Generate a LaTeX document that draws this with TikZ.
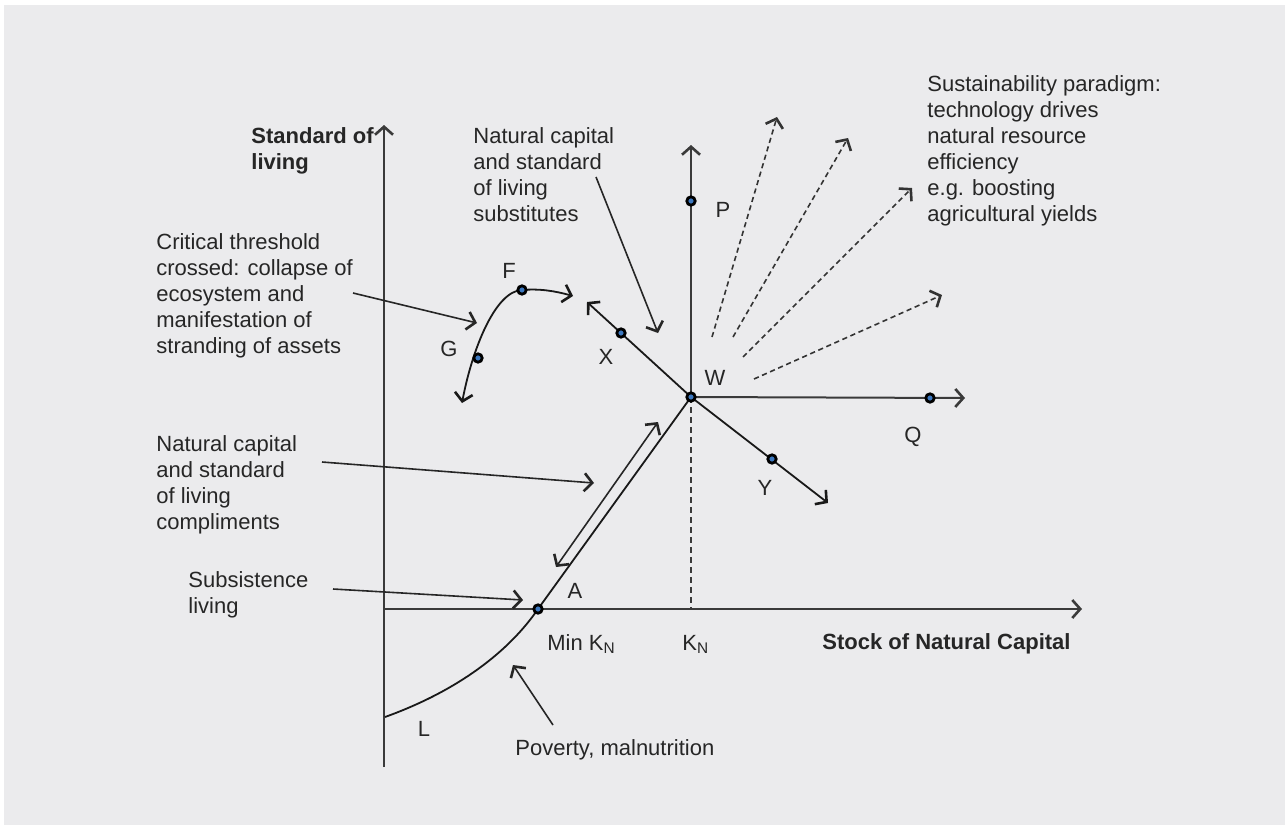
\documentclass[tikz,border=0pt]{standalone}
\usepackage{fontspec}
\setmainfont{Liberation Sans}
\usetikzlibrary{arrows.meta}
\definecolor{bggray}{HTML}{EBEBED}
\definecolor{axisgray}{HTML}{3A3A3A}
\definecolor{dotblue}{HTML}{3C78C0}

\begin{document}
\begin{tikzpicture}[x=0.5pt, y=-0.5pt,
    >={Straight Barb[length=4pt,width=9pt,line width=1.3pt]},
    every node/.style={font=\fontsize{11}{13}\selectfont, text=black!85, inner sep=0pt},
    note/.style={align=left, anchor=base west},
    axislabel/.style={note, font=\fontsize{11}{13}\selectfont\bfseries},
    axis/.style={draw=axisgray, line width=1pt},
    curve/.style={draw=black!90, line width=0.9pt},
    dot/.style={circle, draw=black, fill=dotblue, line width=1.4pt, minimum size=4.2pt},
    ray/.style={draw=black!80, line width=0.8pt, dash pattern=on 2.6pt off 1.8pt},
    pointer/.style={draw=black!85, line width=0.8pt}]
        \useasboundingbox (0,0) rectangle (1285,825);
        \fill[bggray] (4,5) rectangle (1285,825);

        % points of the diagram
        \coordinate (origin) at (384,609);
        \coordinate (ytop) at (384,125);
        \coordinate (ybot) at (384,767);
        \coordinate (xend) at (1082,609);
        \coordinate (a) at (538,609);
        \coordinate (w) at (691,397);
        \coordinate (kn) at (691,609);
        \coordinate (wtop) at (691,145);
        \coordinate (wright) at (965,398);
        \coordinate (p) at (691,201);
        \coordinate (q) at (930,398);
        \coordinate (xend2) at (587,302);
        \coordinate (x) at (621,333);
        \coordinate (yend) at (828,503);
        \coordinate (y) at (772,459);
        \coordinate (l) at (385,717);
        \coordinate (f) at (522,290);
        \coordinate (g) at (478,358);

        % axes
        \draw[axis,->] (ybot) -- (ytop);
        \draw[axis,->] (origin) -- (xend);
        \draw[axis,->] (w) -- (wtop);
        \draw[axis,->] (w) -- (wright);
        \draw[axis, dash pattern=on 3pt off 2pt] (w) -- (kn);

        % curves
        \draw[curve] (l) .. controls (460,690) and (510,650) .. (a) -- (w);
        \draw[curve,->] (w) -- (xend2);
        \draw[curve,->] (w) -- (yend);
        \draw[curve,<->] (462,403) .. controls (472,350) and (495,291) .. (f)
            .. controls (540,288.5) and (555,291) .. (573,296);
        \draw[pointer,<->] (556,567) -- (658,422);

        % technology rays
        \draw[ray,->] (712,337) -- (777,117);
        \draw[ray,->] (733,337) -- (848,138);
        \draw[ray,->] (743,357) -- (912,188);
        \draw[ray,->] (754,379) -- (942,295);

        % dots
        \foreach \pt in {a,w,p,q,x,y,f,g}
            \node[dot] (\pt-dot) at (\pt) {};

        % labels
        \node (flabel) at (509,271) {F};
        \node (glabel) at (449,349) {G};
        \node (xlabel) at (606,357) {X};
        \node (wlabel) at (715,378) {W};
        \node (ylabel) at (765,488) {Y};
        \node (plabel) at (723,210) {P};
        \node (qlabel) at (913,437) {Q};
        \node (alabel) at (575,591) {A};
        \node (llabel) at (424,729) {L};
        \node[note] (minkn) at (547,650) {Min K\textsubscript{N}};
        \node[note] (knlabel) at (682,650) {K\textsubscript{N}};

        \node[axislabel] (living) at (251,169) {Standard of\\living};
        \node[axislabel] (stock) at (822,649) {Stock of Natural Capital};

        % notes (placed by the baseline of their last line)
        \node[note] (critical) at (156,353) {Critical threshold\\crossed: collapse of\\ecosystem and\\manifestation of\\stranding of assets};
        \node[note] (substitutes) at (473,221) {Natural capital\\and standard\\of living\\substitutes};
        \node[note] (compliments) at (156,529) {Natural capital\\and standard\\of living\\compliments};
        \node[note] (subsistence) at (188,613) {Subsistence\\living};
        \node[note] (poverty) at (515,755) {Poverty, malnutrition};
        \node[note] (paradigm) at (927,221) {Sustainability paradigm:\\technology drives\\natural resource\\efficiency\\e.g. boosting\\agricultural yields};

        \coordinate (critical-tip) at (477,323);
        \coordinate (substitutes-tip) at (658,333);
        \coordinate (compliments-tip) at (594,483);
        \coordinate (subsistence-tip) at (523,600);
        \coordinate (poverty-tip) at (513,665);
        \draw[pointer,->] (353,293) -- (critical-tip);
        \draw[pointer,->] (596,177) -- (substitutes-tip);
        \draw[pointer,->] (322,462) -- (compliments-tip);
        \draw[pointer,->] (333,589) -- (subsistence-tip);
        \draw[pointer,->] (553,725) -- (poverty-tip);
      \end{tikzpicture}
\end{document}
